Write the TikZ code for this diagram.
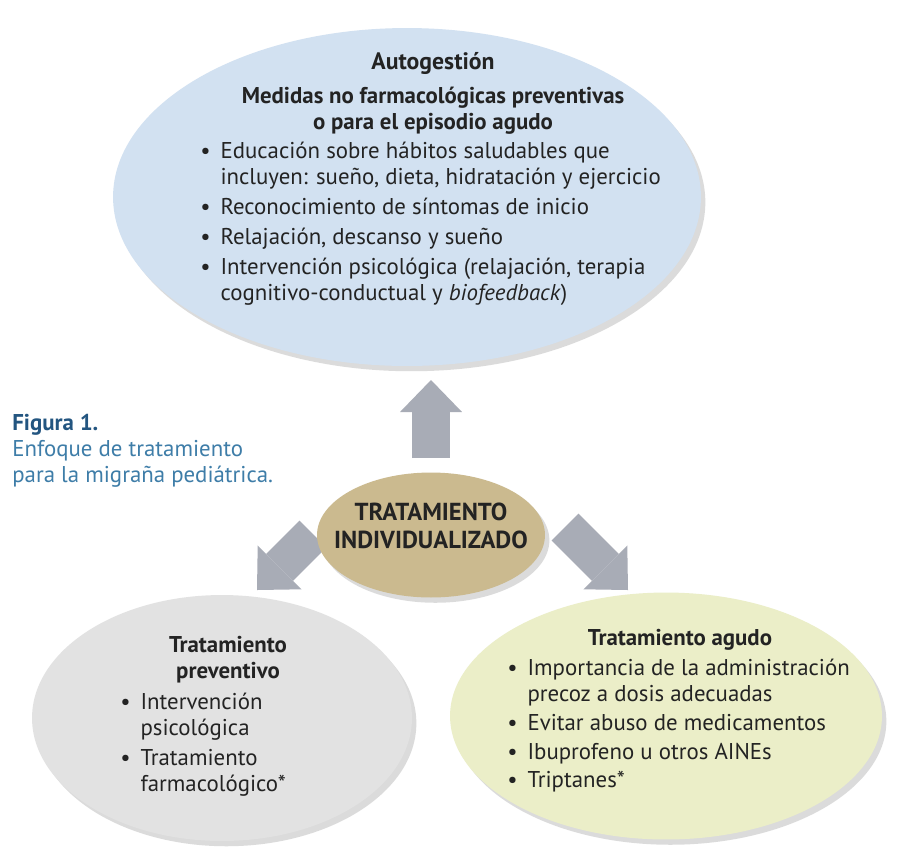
\documentclass[tikz,border=0pt]{standalone}
\usepackage{fontspec}
\setmainfont{PT Sans}
\usetikzlibrary{shapes.geometric,arrows.meta,shadows}

\definecolor{azulclaro}{RGB}{210,225,241}
\definecolor{beige}{RGB}{203,186,143}
\definecolor{grisclaro}{RGB}{226,226,226}
\definecolor{verdeclaro}{RGB}{235,238,200}
\definecolor{grisflecha}{RGB}{168,172,182}
\definecolor{azultitulo}{RGB}{35,85,128}
\definecolor{azultexto}{RGB}{62,125,168}
\definecolor{textogris}{RGB}{35,35,35}

\newcommand{\punto}{\makebox[11.5pt][l]{\textbullet}}
\newcommand{\sangria}{\hspace*{11.5pt}}

\begin{document}
\begin{tikzpicture}[x=0.02cm,y=-0.02cm,
  elipse/.style={ellipse, inner sep=0pt, drop shadow={shadow xshift=2.5pt, shadow yshift=-3pt, opacity=0.28}},
  titulo/.style={font=\bfseries\fontsize{13}{14.8}\selectfont, text=textogris, inner sep=0pt, align=center},
  lista/.style={font=\fontsize{13}{14.8}\selectfont, text=textogris, inner sep=0pt, align=left},
  flecha/.style={grisflecha, line width=0.76cm, -{Triangle[length=0.64cm, width=1.24cm, line width=0pt]}}]

% 画布
\path[use as bounding box, fill=white] (0,0) rectangle (903,850);

% 箭头端点
\coordinate (arribaIni) at (431,458);
\coordinate (arribaFin) at (431,380);
\coordinate (izqIni) at (313,534);
\coordinate (izqFin) at (257,590);
\coordinate (derIni) at (565,527);
\coordinate (derFin) at (628,590);

% 三个方向的粗箭头
\draw[flecha] (arribaIni) -- (arribaFin);
\draw[flecha] (izqIni) -- (izqFin);
\draw[flecha] (derIni) -- (derFin);

% 上方椭圆:自我管理
\node[elipse, fill=azulclaro, minimum width=11.76cm, minimum height=6.76cm] (auto) at (407,197) {};
\node[titulo, anchor=north, font=\bfseries\fontsize{13.5}{15}\selectfont] (autoTit) at (433,52) {Autogestión};
\node[titulo, anchor=north] (autoSub) at (433,87) {Medidas no farmacológicas preventivas\\o para el episodio agudo};
\node[lista, anchor=north west] (autoLista) at (200,142) {%
  \punto Educación sobre hábitos saludables que\\
  \sangria incluyen: sueño, dieta, hidratación y ejercicio\\[2.3pt]
  \punto Reconocimiento de síntomas de inicio\\[2.3pt]
  \punto Relajación, descanso y sueño\\[2.3pt]
  \punto Intervención psicológica (relajación, terapia\\
  \sangria cognitivo-conductual y \textit{biofeedback})};

% 中心椭圆
\node[elipse, fill=beige, minimum width=4.56cm, minimum height=2.5cm] (centro) at (431,535) {};
\node[titulo, font=\bfseries\fontsize{14}{16}\selectfont] (centroTxt) at (431,526) {TRATAMIENTO\\INDIVIDUALIZADO};

% 左下椭圆:预防治疗
\node[elipse, fill=grisclaro, minimum width=7.6cm, minimum height=4.92cm] (prev) at (222,718) {};
\node[titulo, anchor=north] (prevTit) at (228,636) {Tratamiento\\preventivo};
\node[lista, anchor=north west] (prevLista) at (120,693) {%
  \punto Intervención\\
  \sangria psicológica\\[2.3pt]
  \punto Tratamiento\\
  \sangria farmacológico*};

% 右下椭圆:急性治疗
\node[elipse, fill=verdeclaro, minimum width=8.64cm, minimum height=4.94cm] (agudo) at (666,716) {};
\node[titulo, anchor=north] (agudoTit) at (680,629) {Tratamiento agudo};
\node[lista, anchor=north west] (agudoLista) at (507,659) {%
  \punto Importancia de la administración\\
  \sangria precoz a dosis adecuadas\\[1.5pt]
  \punto Evitar abuso de medicamentos\\[1.5pt]
  \punto Ibuprofeno u otros AINEs\\[1.5pt]
  \punto Triptanes*};

% 图注
\node[lista, anchor=north west, text=azultexto] (figura) at (12,414) {%
  \textbf{\color{azultitulo}Figura 1.}\\
  Enfoque de tratamiento\\
  para la migraña pediátrica.};

\end{tikzpicture}
\end{document}
